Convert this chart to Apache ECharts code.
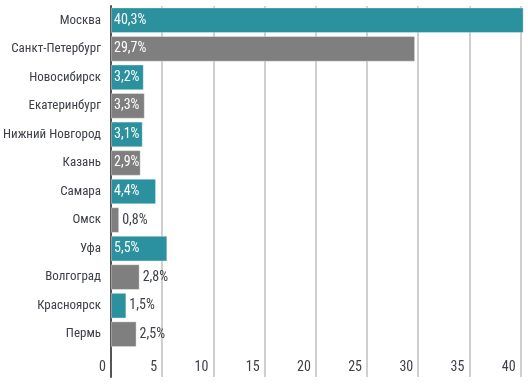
<!DOCTYPE html>
<html><head><meta charset="utf-8">
<script src="https://cdn.jsdelivr.net/npm/echarts@6/dist/echarts.min.js"></script>
<style>html,body{margin:0;padding:0;background:#fff}#c{width:528px;height:384px}</style>
</head><body><div id="c"></div>
<script>
const cities = ['Москва','Санкт-Петербург','Новосибирск','Екатеринбург','Нижний Новгород','Казань','Самара','Омск','Уфа','Волгоград','Красноярск','Пермь'];
const shares = [40.3, 29.7, 3.2, 3.3, 3.1, 2.9, 4.4, 0.8, 5.5, 2.8, 1.5, 2.5];
const xTicks = [0, 5, 10, 15, 20, 25, 30, 35, 40];

const TEAL = '#2b919e', GRAY = '#7f7f7f';
const TEXT = '#3d4047';
const FONT = '"Roboto Condensed", sans-serif';
const INSIDE_MIN = 2.85;
const fmt = v => v.toFixed(1).replace('.', ',') + '%';

const data = shares.map((v, i) => {
  const inside = v >= INSIDE_MIN;
  return {
    value: v,
    itemStyle: { color: i % 2 === 0 ? TEAL : GRAY },
    label: inside
      ? { position: 'insideLeft', distance: 3, color: '#fff' }
      : { position: 'right', distance: 3, color: TEXT }
  };
});

const chart = echarts.init(document.getElementById('c'), null, { renderer: 'canvas' });
chart.setOption({
  animation: false,
  grid: { left: 111, right: 7.4, top: 6, bottom: 7, containLabel: false, outerBoundsMode: 'none' },
  xAxis: {
    type: 'value', min: xTicks[0], max: xTicks[xTicks.length - 1], interval: xTicks[1] - xTicks[0],
    axisLine: { show: false }, axisTick: { show: false },
    splitLine: { show: true, lineStyle: { color: '#cfcfcf', width: 2 } },
    axisLabel: { inside: true, margin: 3, align: 'right', padding: [0, 5, 0, 0],
      color: TEXT, fontFamily: FONT, fontSize: 14 }
  },
  yAxis: {
    type: 'category', inverse: true, data: cities.concat(['']),
    axisTick: { show: false },
    axisLine: { show: true, lineStyle: { color: '#555', width: 2 } },
    axisLabel: { margin: 10, color: TEXT, fontFamily: FONT, fontSize: 13 }
  },
  series: [{
    type: 'bar', data: data, barCategoryGap: '10%', clip: false,
    itemStyle: { borderColor: 'rgba(255,255,255,0.35)', borderWidth: 1 },
    label: { show: true, formatter: p => fmt(p.value), fontFamily: FONT, fontSize: 14 }
  }]
});
</script></body></html>
